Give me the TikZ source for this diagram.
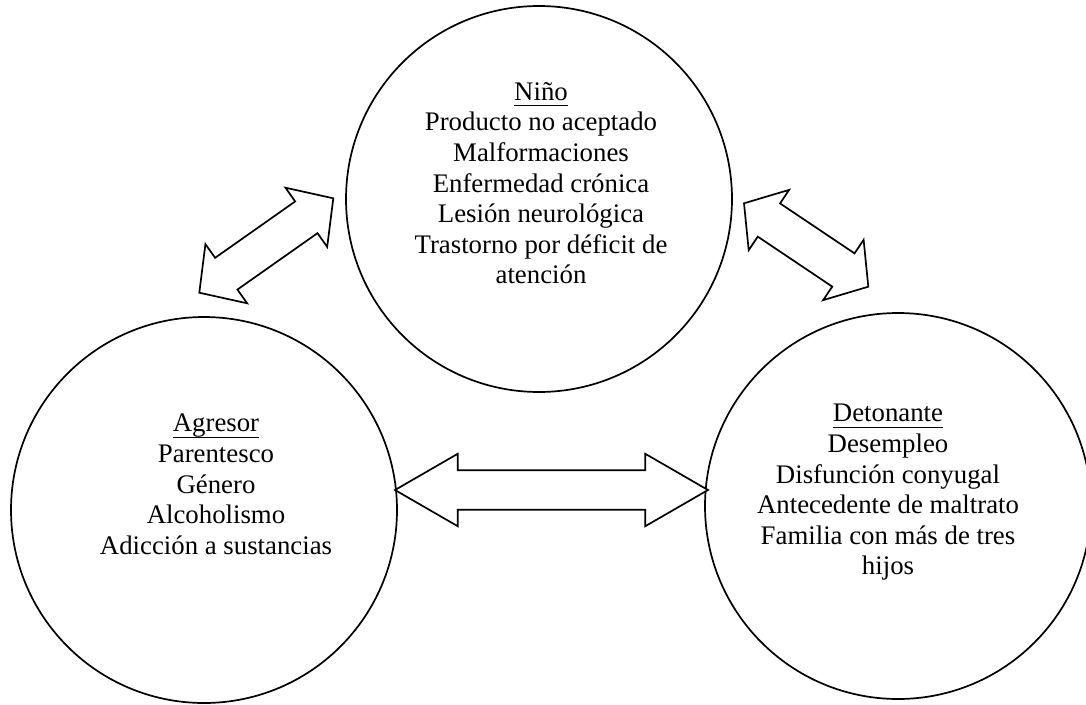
\documentclass[tikz,border=0pt]{standalone}
\usepackage{fontspec}
\setmainfont{Liberation Serif}
\usetikzlibrary{calc}
\newcommand\ulword[1]{\setbox0=\hbox{#1}\rlap{\rule[-6pt]{\wd0}{1.4pt}}\box0}
\newcommand\blockarr[5]{%
  \draw[arrowline] (#1)
    -- ($(#1)!#3!(#2)!#4!90:(#2)$)
    -- ($(#1)!#3!(#2)!#5!90:(#2)$)
    -- ($(#2)!#3!(#1)!#5!-90:(#1)$)
    -- ($(#2)!#3!(#1)!#4!-90:(#1)$)
    -- (#2)
    -- ($(#2)!#3!(#1)!#4!90:(#1)$)
    -- ($(#2)!#3!(#1)!#5!90:(#1)$)
    -- ($(#1)!#3!(#2)!#5!-90:(#2)$)
    -- ($(#1)!#3!(#2)!#4!-90:(#2)$)
    -- cycle;}
\begin{document}
\begin{tikzpicture}[x=1pt,y=-1pt,
  circ/.style={circle, draw, line width=1.7pt, minimum size=386pt, inner sep=0pt},
  blk/.style={anchor=north, align=center, inner sep=0pt, font=\fontsize{26.8}{30.6}\selectfont},
  arrowline/.style={draw, line width=1.7pt, line join=miter, fill=white}]
\useasboundingbox (0,0) rectangle (1086,704);
\fill[white] (0,0) rectangle (1086,704);
% circles
\node[circ] (nino) at (539,199) {};
\node[circ] (agresor) at (204,510) {};
\node[circ] (deton) at (898,506) {};
% texts
\node[blk] (tnino) at (541,79) {\rule{0pt}{21pt}\ulword{Niño}\\Producto no aceptado\\Malformaciones\\Enfermedad crónica\\Lesión neurológica\\Trastorno por déficit de\\atención};
\node[blk] (tagresor) at (216,410.7) {\rule{0pt}{21pt}\ulword{Agresor}\\Parentesco\\Género\\Alcoholismo\\Adicción a sustancias};
\node[blk] (tdeton) at (888,400.7) {\rule{0pt}{21pt}\ulword{Detonante}\\Desempleo\\Disfunción conyugal\\Antecedente de maltrato\\Familia con más de tres\\hijos};
% arrow tips
\coordinate (tlA) at (333.3,198.3);
\coordinate (tlB) at (199.3,292.7);
\coordinate (trA) at (744,203.3);
\coordinate (trB) at (868.3,286.7);
\coordinate (hA) at (395,490);
\coordinate (hB) at (708,490);
\blockarr{tlA}{tlB}{33pt}{36.2pt}{19.4pt}
\blockarr{trA}{trB}{30pt}{36.3pt}{20pt}
\blockarr{hA}{hB}{62.7pt}{36.2pt}{19.7pt}
\end{tikzpicture}
\end{document}
